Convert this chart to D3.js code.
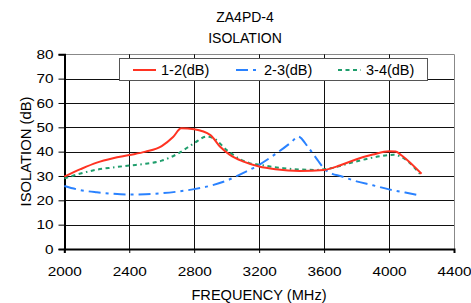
<!DOCTYPE html>
<html>
<head>
<meta charset="utf-8">
<script src="https://cdn.jsdelivr.net/npm/d3@7"></script>
<style>
  body { margin: 0; background: #fff; }
  text { font-family: "Liberation Sans", Arial, sans-serif; fill: #000; }
</style>
</head>
<body>
<svg id="chart"></svg>
<script>
const width = 471;
const height = 303;
const margin = {left: 64.3, right: 17, top: 54.3, bottom: 54};

// data
const freq12 = [2000, 2100, 2200, 2300, 2400, 2500, 2600, 2670, 2720, 2800, 2900, 2960, 3020, 3100, 3200, 3300, 3450, 3600, 3700, 3800, 3900, 4000, 4040, 4080, 4200];
const iso12  = [29.7, 32.8, 35.5, 37.3, 38.6, 40.0, 42.3, 46.0, 49.6, 49.2, 46.8, 42.0, 38.7, 36.0, 33.9, 32.8, 32.1, 32.5, 34.4, 36.9, 38.8, 40.2, 40.1, 38.3, 30.9];

const freq23 = [2000, 2100, 2200, 2300, 2400, 2500, 2600, 2700, 2800, 2900, 3000, 3100, 3200, 3300, 3400, 3440, 3500, 3560, 3600, 3650, 3700, 3800, 3900, 4000, 4100, 4190];
const iso23  = [25.9, 24.2, 23.3, 22.7, 22.4, 22.5, 22.9, 23.6, 24.6, 26.0, 28.1, 31.2, 34.6, 39.0, 44.0, 46.2, 42.0, 36.5, 33.0, 30.9, 30.0, 27.8, 26.2, 24.5, 23.2, 22.0];

const freq34 = [2000, 2100, 2200, 2300, 2400, 2500, 2600, 2700, 2800, 2876, 2920, 3000, 3140, 3200, 3350, 3550, 3650, 3760, 3880, 3960, 4030, 4090, 4190];
const iso34  = [29.0, 31.0, 32.6, 33.5, 34.3, 35.0, 36.3, 39.2, 43.5, 46.2, 45.5, 40.7, 35.3, 34.6, 33.2, 32.5, 33.3, 35.3, 37.3, 38.3, 38.7, 37.3, 30.9];

const seriesNames = ["1-2(dB)", "2-3(dB)", "3-4(dB)"];
const colors = ["#ff3322", "#2a82ff", "#1f9e6c"];
const dashes = [null, "12,5,3,5", "4,3.5,4,3.5,4,3.5,1.5,3.5"];

const xTicks = [2000, 2400, 2800, 3200, 3600, 4000, 4400];
const yTicks = [0, 10, 20, 30, 40, 50, 60, 70, 80];

const svg = d3.select("#chart")
    .attr("width", width)
    .attr("height", height);

const x = d3.scaleLinear().domain([2000, 4400]).range([margin.left, width - margin.right]);
const y = d3.scaleLinear().domain([0, 80]).range([height - margin.bottom, margin.top]);

const stretch = 1.18;

// grid lines
svg.append("g").selectAll("line")
    .data(yTicks.slice(1))
    .enter().append("line")
    .attr("x1", x(2000)).attr("x2", x(4400))
    .attr("y1", d => Math.round(y(d)) + 0.5).attr("y2", d => Math.round(y(d)) + 0.5)
    .attr("stroke", d => d === 80 ? "#888" : "#111")
    .attr("stroke-width", 1);

svg.append("g").selectAll("line")
    .data(xTicks.slice(1))
    .enter().append("line")
    .attr("x1", d => Math.round(x(d)) + 0.5).attr("x2", d => Math.round(x(d)) + 0.5)
    .attr("y1", y(80)).attr("y2", y(0))
    .attr("stroke", d => d === 4400 ? "#888" : "#111")
    .attr("stroke-width", 1);

// axes
const yAxis = svg.append("g")
    .attr("transform", `translate(${Math.round(x(2000)) + 0.5},0)`)
    .call(d3.axisLeft(y).tickValues(yTicks).tickSize(6).tickPadding(5));
yAxis.select(".domain").attr("stroke", "#000").attr("stroke-width", 2);
yAxis.selectAll("text")
    .attr("x", -11 / stretch)
    .attr("transform", `scale(${stretch},1)`)
    .style("font-size", "13px")
    .style("font-family", "Liberation Sans, Arial, sans-serif");

const xAxis = svg.append("g")
    .attr("transform", `translate(0,${Math.round(y(0))})`)
    .call(d3.axisBottom(x).tickValues(xTicks).tickFormat(d3.format("d")).tickSize(4).tickPadding(13.8));
xAxis.select(".domain").attr("stroke", "#000").attr("stroke-width", 2);
xAxis.selectAll("text")
    .each(function() {
        const t = d3.select(this);
        t.attr("x", 0);
    })
    .attr("transform", `scale(${stretch},1)`)
    .style("font-size", "13px")
    .style("font-family", "Liberation Sans, Arial, sans-serif");

// series
const line = d3.line()
    .x(d => x(d[0]))
    .y(d => y(d[1]))
    .curve(d3.curveMonotoneX);

const series = [
    d3.zip(freq12, iso12),
    d3.zip(freq23, iso23),
    d3.zip(freq34, iso34)
];

// draw green and blue under red like the reference
[2, 1, 0].forEach(i => {
    svg.append("path")
        .datum(series[i])
        .attr("d", line)
        .attr("fill", "none")
        .attr("stroke", colors[i])
        .attr("stroke-width", 2)
        .attr("stroke-dasharray", dashes[i]);
});

// legend
const legend = svg.append("g");
legend.append("rect")
    .attr("x", 119.5).attr("y", 58.5)
    .attr("width", 308).attr("height", 22)
    .attr("fill", "#fff")
    .attr("stroke", "#555")
    .attr("stroke-width", 1);

const legendX = [133, 236, 338];
seriesNames.forEach((name, i) => {
    legend.append("line")
        .attr("x1", legendX[i]).attr("x2", legendX[i] + 23)
        .attr("y1", 70).attr("y2", 70)
        .attr("stroke", colors[i])
        .attr("stroke-width", 2)
        .attr("stroke-dasharray", dashes[i]);
    legend.append("text")
        .attr("x", legendX[i] + 28)
        .attr("y", 75)
        .attr("font-size", 14.5)
        .text(name);
});

// titles
svg.append("text")
    .attr("x", 245).attr("y", 22.3)
    .attr("text-anchor", "middle")
    .attr("font-size", 14)
    .text("ZA4PD-4");
svg.append("text")
    .attr("x", 245).attr("y", 43.3)
    .attr("text-anchor", "middle")
    .attr("font-size", 14)
    .text("ISOLATION");

svg.append("text")
    .attr("x", 259).attr("y", 300)
    .attr("text-anchor", "middle")
    .attr("font-size", 14.6)
    .text("FREQUENCY (MHz)");

svg.append("text")
    .attr("transform", "translate(31,151.5) rotate(-90)")
    .attr("text-anchor", "middle")
    .attr("font-size", 14.8)
    .text("ISOLATION (dB)");
</script>
</body>
</html>
